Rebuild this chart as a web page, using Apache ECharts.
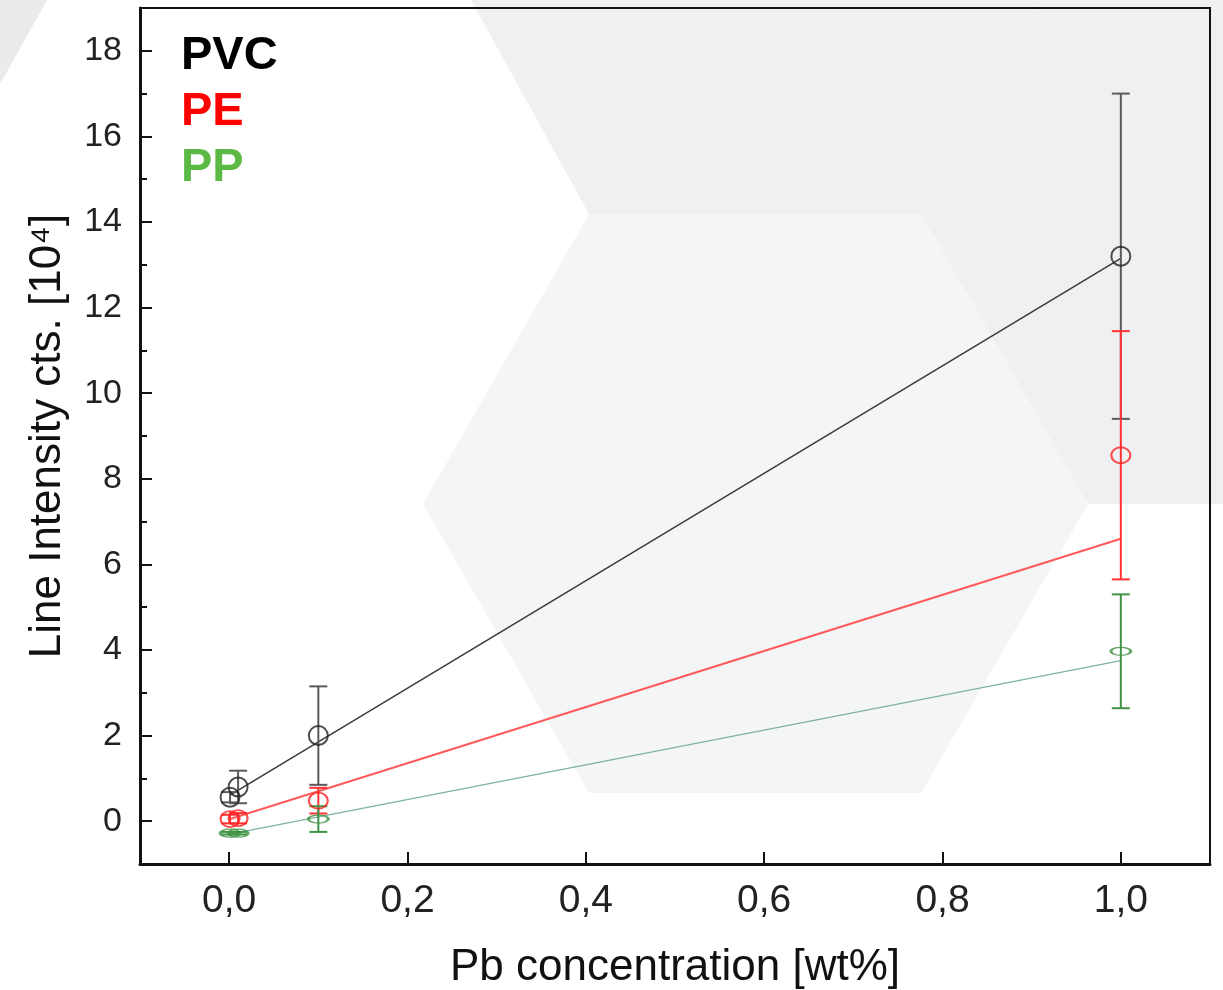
<!DOCTYPE html>
<html lang="en">
<head>
    <meta charset="UTF-8">
    <title>Pb line intensity</title>
    <style>
        html, body { margin: 0; padding: 0; background: #fff; }
    </style>
</head>
<body>

<div id="main" style="width: 1223px;height:990px;"></div>

<script src="https://cdn.jsdelivr.net/npm/echarts@6/dist/echarts.min.js"></script>
<script type="text/javascript">
    // Pb concentration [wt%]
    var pvcX = [0.001, 0.01, 0.1, 1.0];
    var pvcY = [0.56, 0.8, 2.0, 13.2];
    var pvcErr = [0.12, 0.38, 1.15, 3.8];

    var peX = [0.001, 0.01, 0.1, 1.0];
    var peY = [0.05, 0.07, 0.48, 8.55];
    var peErr = [0.1, 0.12, 0.3, 2.9];

    var ppX = [0.001, 0.01, 0.1, 1.0];
    var ppY = [-0.28, -0.28, 0.05, 3.97];
    var ppErr = [0.03, 0.03, 0.3, 1.33];

    // linear fits (start, end)
    var pvcFit = [[0.001, 0.61], [1.0, 13.15]];
    var peFit = [[0.001, 0.05], [1.0, 6.6]];
    var ppFit = [[0.001, -0.3], [1.0, 3.75]];

    var xTicks = [0, 0.2, 0.4, 0.6, 0.8, 1.0];
    var yTicks = [0, 2, 4, 6, 8, 10, 12, 14, 16, 18];
    var yMinorTicks = [1, 3, 5, 7, 9, 11, 13, 15, 17];

    var legendNames = ['PVC', 'PE', 'PP'];
    var legendColors = ['#000000', '#ff0000', '#5cb946'];

    function points(xs, ys) {
        return xs.map(function (x, i) { return [x, ys[i]]; });
    }
    function errRows(xs, ys, es) {
        return xs.map(function (x, i) { return [x, ys[i] - es[i], ys[i] + es[i]]; });
    }

    // error bar with caps, drawn through the axes
    function errorBar(color) {
        return function (params, api) {
            var lo = api.coord([api.value(0), api.value(1)]);
            var hi = api.coord([api.value(0), api.value(2)]);
            var w = 9;
            var st = { stroke: color, lineWidth: 2 };
            return {
                type: 'group',
                children: [
                    { type: 'line', shape: { x1: lo[0], y1: lo[1], x2: hi[0], y2: hi[1] }, style: st },
                    { type: 'line', shape: { x1: hi[0] - w, y1: hi[1], x2: hi[0] + w, y2: hi[1] }, style: st },
                    { type: 'line', shape: { x1: lo[0] - w, y1: lo[1], x2: lo[0] + w, y2: lo[1] }, style: st }
                ]
            };
        };
    }

    var FONT = "'Liberation Sans', Arial, sans-serif";

    var myChart = echarts.init(document.getElementById('main'));

    // background hexagons + the PVC / PE / PP labels
    var graphics = [
        { type: 'polygon', z: -100, shape: { points: [[0, 0], [47, 0], [0, 84]] }, style: { fill: '#e9ebec' } },
        { type: 'polygon', z: -100, shape: { points: [[471, 0], [589, 214], [921, 214], [1038, 0]] }, style: { fill: '#eff0f0' } },
        { type: 'polygon', z: -100, shape: { points: [[1038, 0], [1223, 0], [1223, 504], [1088, 504], [921, 214]] }, style: { fill: '#eff0f2' } },
        { type: 'polygon', z: -100, shape: { points: [[589, 214], [921, 214], [1088, 504], [921, 793], [589, 793], [423, 504]] }, style: { fill: '#f4f5f5' } }
    ];
    legendNames.forEach(function (n, i) {
        graphics.push({
            type: 'text', left: 181, top: 33 + i * 56, z: 50,
            style: { text: n, fill: legendColors[i], font: 'bold 47px ' + FONT }
        });
    });

    var option = {
        backgroundColor: '#ffffff',
        animation: false,
        graphic: { elements: graphics },
        grid: {
            left: 140,
            right: 13,
            top: 8,
            bottom: 126,
            outerBoundsMode: 'none',
            containLabel: false,
            show: true,
            borderColor: '#111',
            borderWidth: 2,
            backgroundColor: 'transparent'
        },
        xAxis: {
            type: 'value',
            min: -0.1,
            max: 1.1,
            name: 'Pb concentration [wt%]',
            nameLocation: 'middle',
            nameGap: 82,
            nameTextStyle: { fontFamily: FONT, fontSize: 44, color: '#111' },
            axisLine: { onZero: false, lineStyle: { color: '#111', width: 3 } },
            axisTick: { inside: true, length: 12, lineStyle: { color: '#111', width: 2 }, customValues: xTicks },
            axisLabel: {
                customValues: xTicks,
                margin: 18,
                fontFamily: FONT,
                fontSize: 39,
                color: '#222',
                formatter: function (v) { return v.toFixed(1).replace('.', ','); }
            },
            splitLine: { show: false }
        },
        yAxis: [
            {
                type: 'value',
                min: -1,
                max: 19,
                name: 'Line Intensity cts. [10⁴]',
                nameLocation: 'middle',
                nameGap: 70,
                nameTextStyle: { fontFamily: FONT, fontSize: 44, color: '#111' },
                axisLine: { onZero: false, lineStyle: { color: '#111', width: 3 } },
                axisTick: { inside: true, length: 12, lineStyle: { color: '#111', width: 2 }, customValues: yTicks },
                axisLabel: { customValues: yTicks, margin: 18, fontFamily: FONT, fontSize: 34, color: '#222' },
                splitLine: { show: false }
            },
            {
                type: 'value',
                min: -1,
                max: 19,
                position: 'left',
                offset: 0,
                axisLine: { show: false, onZero: false },
                axisTick: { show: true, inside: true, length: 7, lineStyle: { color: '#111', width: 2 }, customValues: yMinorTicks },
                axisLabel: { show: false },
                splitLine: { show: false }
            }
        ],
        series: [
            // fit lines
            { name: 'PVC fit', type: 'line', data: pvcFit, showSymbol: false, lineStyle: { color: '#3a3a3a', width: 1.5 }, z: 2 },
            { name: 'PE fit', type: 'line', data: peFit, showSymbol: false, lineStyle: { color: '#ff5a5a', width: 2 }, z: 2 },
            { name: 'PP fit', type: 'line', data: ppFit, showSymbol: false, lineStyle: { color: '#7db39a', width: 1.2 }, z: 2 },
            // error bars
            { name: 'PVC err', type: 'custom', renderItem: errorBar('#5a5a5a'), encode: { x: 0, y: [1, 2] }, data: errRows(pvcX, pvcY, pvcErr), z: 3 },
            { name: 'PE err', type: 'custom', renderItem: errorBar('#ff3333'), encode: { x: 0, y: [1, 2] }, data: errRows(peX, peY, peErr), z: 4 },
            { name: 'PP err', type: 'custom', renderItem: errorBar('#3f9445'), encode: { x: 0, y: [1, 2] }, data: errRows(ppX, ppY, ppErr), z: 4 },
            // measured points
            { name: 'PVC', type: 'scatter', data: points(pvcX, pvcY), symbol: 'circle', symbolSize: [19, 19],
              itemStyle: { color: 'rgba(255,255,255,0)', borderColor: '#222', borderWidth: 2 }, z: 5 },
            { name: 'PE', type: 'scatter', data: points(peX, peY), symbol: 'circle', symbolSize: [19, 16],
              itemStyle: { color: 'rgba(255,255,255,0)', borderColor: '#ff2222', borderWidth: 2 }, z: 5 },
            { name: 'PP', type: 'scatter', data: points(ppX, ppY), symbol: 'circle', symbolSize: [20, 8],
              itemStyle: { color: 'rgba(255,255,255,0)', borderColor: '#3f9445', borderWidth: 2 }, z: 5 }
        ]
    };

    myChart.setOption(option);
</script>
</body>
</html>
